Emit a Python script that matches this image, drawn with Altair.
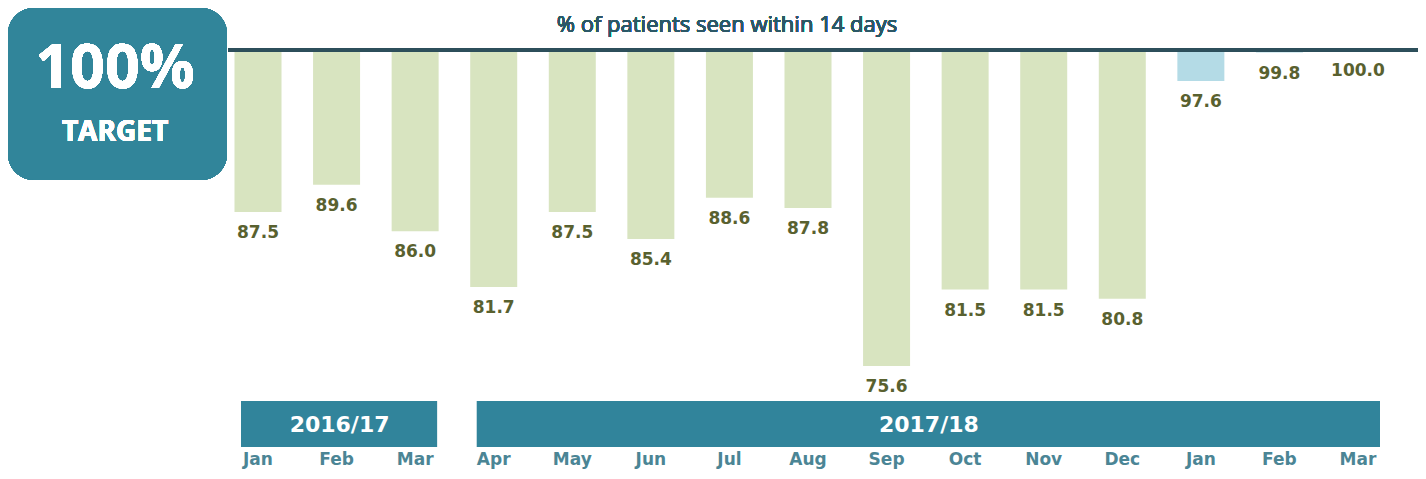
import altair as alt
import pandas as pd

months = ["Jan", "Feb", "Mar", "Apr", "May", "Jun", "Jul", "Aug", "Sep",
          "Oct", "Nov", "Dec", "Jan", "Feb", "Mar"]
values = [87.5, 89.6, 86.0, 81.7, 87.5, 85.4, 88.6, 87.8, 75.6,
          81.5, 81.5, 80.8, 97.6, 99.8, 100.0]
groups = ["past"] * 12 + ["recent"] * 3
years = ["2016/17", "2017/18"]
year_start = [0, 3]
year_end = [2, 14]
title_text = "% of patients seen within 14 days"
target_value = 100

df = pd.DataFrame({"idx": list(range(len(months))), "month": months,
                   "value": values, "group": groups})
df["label"] = df["value"].map(lambda v: f"{v:.1f}")
ydf = pd.DataFrame({"year": years, "start": year_start, "end": year_end})

xs = alt.Scale(domain=[0, 14], range=[245, 1355])
ys = alt.Scale(domain=[70, 100], range=[430.5, 42])
X = alt.X("idx:Q", scale=xs, axis=None)

base = alt.Chart(df)

bars = base.mark_bar(size=47).encode(
    x=X,
    y=alt.Y("value:Q", scale=ys, axis=None),
    y2=alt.datum(target_value),
    color=alt.Color("group:N", scale=alt.Scale(domain=["past", "recent"],
                    range=["#d8e4c0", "#b4dbe6"]), legend=None),
)

vlabels = base.mark_text(font="DejaVu Sans", fontWeight="bold", fontSize=17,
                         color="#59612f", baseline="middle", dy=21).encode(
    x=X, y=alt.Y("value:Q", scale=ys), text="label:N")

target_rule = alt.Chart(df).mark_rule(color="#2d4f5b", strokeWidth=3).encode(
    y=alt.datum(target_value, scale=ys), x=alt.value(220), x2=alt.value(1410))

mlabels = base.mark_text(font="DejaVu Sans", fontWeight="bold", fontSize=17,
                         color="#4b8595", baseline="middle").encode(
    x=X, y=alt.value(452), text="month:N")

yb = alt.Chart(ydf)
yrects = yb.mark_rect(color="#31849b", xOffset=-17, x2Offset=22).encode(
    x=alt.X("start:Q", scale=xs, axis=None), x2="end:Q",
    y=alt.value(393), y2=alt.value(439))
ytext = yb.transform_calculate(mid="(datum.start + datum.end) / 2").mark_text(
    font="DejaVu Sans", fontWeight="bold", fontSize=22, color="white",
    baseline="middle", dx=3).encode(
    x=alt.X("mid:Q", scale=xs, axis=None), y=alt.value(417), text="year:N")

box = alt.Chart(df).mark_rect(color="#31859a", cornerRadius=26).encode(
    x=alt.value(0), x2=alt.value(219), y=alt.value(0), y2=alt.value(172))
box_big = alt.Chart(df).mark_text(text="100%", font="Open Sans", fontWeight="bold",
                                  fontSize=61, color="white", baseline="middle").encode(
    x=alt.value(107), y=alt.value(62))
box_small = alt.Chart(df).mark_text(text="TARGET", font="Open Sans", fontWeight="bold",
                                    fontSize=28, color="white", baseline="middle").encode(
    x=alt.value(107), y=alt.value(125))

title = alt.Chart(df).mark_text(text=title_text, font="Open Sans", fontSize=22,
                                color="#2b5867", baseline="middle").encode(
    x=alt.value(719), y=alt.value(17))

chart = alt.layer(bars, vlabels, target_rule, mlabels, yrects, ytext,
                  box, box_big, box_small, title).properties(
    width=1410, height=463, padding=0, autosize="none"
).configure_view(stroke=None)

chart.save("out.html", embed_options={"renderer": "svg", "actions": False})
